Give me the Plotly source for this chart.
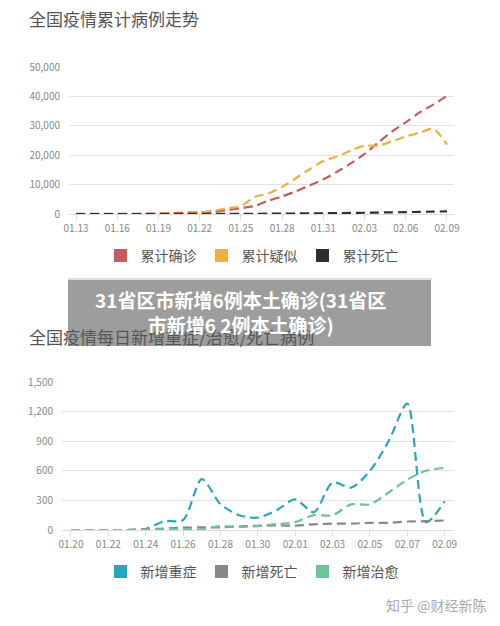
import plotly.graph_objects as go

top_dates = ["01.13","01.14","01.15","01.16","01.17","01.18","01.19","01.20","01.21","01.22","01.23","01.24","01.25","01.26",
             "01.27","01.28","01.29","01.30","01.31","02.01","02.02","02.03","02.04","02.05","02.06","02.07","02.08","02.09"]
confirmed = [41,41,41,45,62,121,198,291,440,571,830,1287,1975,2744,4515,5974,7711,9692,11791,14380,17205,20438,24324,28018,31161,34546,37198,40171]
suspected = [0,0,0,0,0,0,0,54,137,393,1072,1965,2684,5794,6973,9239,12167,15238,17988,19544,21558,23214,23260,24702,26359,27657,28942,23589]
deaths = [1,1,1,2,2,2,3,6,9,17,25,41,56,80,106,132,170,213,259,304,361,425,490,563,636,722,811,908]
top_ticks = ["01.13","01.16","01.19","01.22","01.25","01.28","01.31","02.03","02.06","02.09"]

bot_dates = ["01.20","01.21","01.22","01.23","01.24","01.25","01.26","01.27","01.28","01.29","01.30",
             "01.31","02.01","02.02","02.03","02.04","02.05","02.06","02.07","02.08","02.09"]
severe = [0,0,0,0,10,90,100,515,263,150,125,200,310,180,480,430,600,900,1280,80,290]
new_deaths = [0,0,0,0,8,15,24,26,26,38,43,46,45,57,64,65,73,73,86,89,97]
cured = [0,0,0,0,3,10,9,6,40,30,40,60,80,150,150,260,260,380,510,600,630]
bot_ticks = ["01.20","01.22","01.24","01.26","01.28","01.30","02.01","02.03","02.05","02.07","02.09"]

W, H = 500, 626
OFF = 8
def py(p): return 1 - (p - OFF) / H
def px(p): return (p - OFF) / W

fig = go.Figure()
tick_font = dict(family="Noto Sans CJK SC", size=10, color="#888")

def add_series(y, name, color, xa, ya, legend):
    fig.add_trace(go.Scatter(x=list(range(len(y))), y=y, mode="lines", xaxis=xa, yaxis=ya,
                             line=dict(color=color, width=2.2, dash="9px,5px", shape="spline", smoothing=0.8),
                             showlegend=False, hoverinfo="skip"))
    fig.add_trace(go.Scatter(x=[None], y=[None], mode="markers", name=name, legend=legend,
                             marker=dict(symbol="square", size=13, color=color), xaxis=xa, yaxis=ya))

add_series(confirmed, "累计确诊", "#c95b5f", "x", "y", "legend")
add_series(suspected, "累计疑似", "#efb13c", "x", "y", "legend")
add_series(deaths, "累计死亡", "#2e2e2e", "x", "y", "legend")
add_series(severe, "新增重症", "#27a9ba", "x2", "y2", "legend2")
add_series(new_deaths, "新增死亡", "#888888", "x2", "y2", "legend2")
add_series(cured, "新增治愈", "#6fc39b", "x2", "y2", "legend2")

axcommon = dict(showgrid=False, zeroline=False, showline=True, linecolor="#ddd", ticks="outside",
                tickcolor="#ddd", ticklen=5, tickfont=tick_font, type="linear")
ycommon = dict(showgrid=True, gridcolor="#e3e3e3", zeroline=False, tickfont=tick_font, ticks="",
               ticklabelstandoff=8, type="linear")
leg_font = dict(family="Noto Sans CJK SC", size=14, color="#555")
fig.update_layout(
    width=W, height=H, margin=dict(l=0, r=0, t=0, b=0, autoexpand=False),
    paper_bgcolor="white", plot_bgcolor="white",
    xaxis=dict(domain=[px(69), px(454)], range=[-0.51, 27.51], anchor="y",
               tickvals=[top_dates.index(t) for t in top_ticks], ticktext=top_ticks, **axcommon),
    yaxis=dict(domain=[py(214), py(67)], range=[0, 50000], anchor="x", tickvals=[0,10000,20000,30000,40000,50000],
               ticktext=["0","10,000","20,000","30,000","40,000","50,000"], **ycommon),
    xaxis2=dict(domain=[px(62), px(454)], range=[-0.48, 20.5], anchor="y2",
                tickvals=[bot_dates.index(t) for t in bot_ticks], ticktext=bot_ticks, **axcommon),
    yaxis2=dict(domain=[py(530), py(382)], range=[0, 1500], anchor="x2", tickvals=[0,300,600,900,1200,1500],
                ticktext=["0","300","600","900","1,200","1,500"], **ycommon),
    legend=dict(orientation="h", x=px(252), xanchor="center", y=py(256), yanchor="middle",
                font=leg_font, itemwidth=30),
    legend2=dict(orientation="h", x=px(252), xanchor="center", y=py(572), yanchor="middle",
                 font=leg_font, itemwidth=30),
    shapes=[
        dict(type="line", xref="paper", yref="paper", x0=px(68), x1=px(432), y0=py(279), y1=py(279),
             line=dict(color="#bbb", width=1)),
        dict(type="rect", xref="paper", yref="paper", x0=px(68), x1=px(431), y0=py(346), y1=py(280),
             fillcolor="rgba(140,140,140,0.85)", line=dict(width=0), layer="above"),
    ],
    annotations=[
        dict(text="全国疫情累计病例走势", x=px(27), y=py(19), xref="paper", yref="paper", xanchor="left",
             yanchor="middle", showarrow=False, font=dict(family="Noto Sans CJK SC", size=17, color="#555")),
        dict(text="全国疫情每日新增重症/治愈/死亡病例", x=px(27), y=py(336), xref="paper", yref="paper",
             xanchor="left", yanchor="middle", showarrow=False,
             font=dict(family="Noto Sans CJK SC", size=17, color="#555")),
        dict(text="<b>31省区市新增6例本土确诊(31省区<br>市新增6 2例本土确诊)</b>", x=px(240), y=py(312),
             xref="paper", yref="paper", xanchor="center", yanchor="middle", showarrow=False, align="center",
             font=dict(family="Noto Sans CJK SC", size=19, color="white")),
        dict(text="知乎 @财经新陈", x=px(488), y=py(605), xref="paper", yref="paper", xanchor="right",
             yanchor="middle", showarrow=False, font=dict(family="Noto Sans CJK SC", size=14, color="#aaa")),
    ],
)
fig.write_html("out.html")
